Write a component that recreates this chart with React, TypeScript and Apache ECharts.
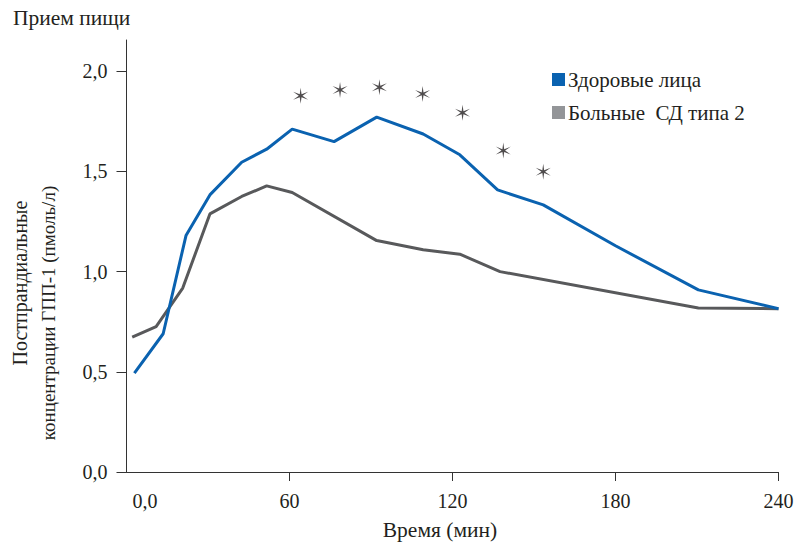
import React, { useEffect, useRef } from "react";
import * as echarts from "echarts";

const blueName = "Здоровые лица";
const grayName = "Больные  СД типа 2";
const blueT = [2.9, 13.5, 21.9, 30.7, 42.4, 51.6, 61, 76.4, 92.1, 109.2, 122.7, 136.6, 153.4, 180, 210.5, 240];
const blueV = [0.494, 0.69, 1.18, 1.383, 1.546, 1.611, 1.711, 1.649, 1.771, 1.687, 1.583, 1.408, 1.333, 1.129, 0.909, 0.815];
const grayT = [2.1, 10.9, 20.7, 30.7, 42.4, 51.6, 61, 92.1, 109.2, 122.7, 137.5, 210.5, 240];
const grayV = [0.673, 0.726, 0.918, 1.288, 1.375, 1.428, 1.395, 1.155, 1.109, 1.087, 1.0, 0.818, 0.815];
const starT = [64.1, 78.6, 93.1, 109, 123.7, 138.7, 153.4];
const starV = [1.878, 1.907, 1.92, 1.887, 1.793, 1.604, 1.499];
const yTicks = [0, 0.5, 1, 1.5, 2];
const xTicks = [60, 120, 180, 240];
const xLabelVals = [6.8, 60, 120, 180, 240];

const FONT = "Liberation Serif";

function starPath(): string {
  const pts: string[] = [];
  for (let i = 0; i < 12; i++) {
    const a = -Math.PI / 2 + (i * Math.PI) / 6;
    const r = i % 2 === 0 ? 10 : 2.1;
    pts.push(`${(Math.cos(a) * r).toFixed(2)} ${(Math.sin(a) * r).toFixed(2)}`);
  }
  return "path://M" + pts.join(" L") + " Z";
}

export default function App() {
  const ref = useRef<HTMLDivElement>(null);
  useEffect(() => {
    const chart = echarts.init(ref.current!, null, { renderer: "svg" });
    const fmt = (v: number) => v.toFixed(1).replace(".", ",");
    chart.setOption({
      animation: false,
      textStyle: { fontFamily: FONT },
      grid: { left: 126.5, right: 19.5, top: 40, bottom: 74, containLabel: false },
      legend: {
        orient: "vertical",
        left: 547,
        top: 64,
        itemWidth: 13,
        itemHeight: 13,
        itemGap: 12,
        icon: "rect",
        textStyle: { fontFamily: FONT, fontSize: 21, color: "#231f20", padding: [0, 0, 0, -2] },
        data: [
          { name: blueName, itemStyle: { color: "#0a62b0" } },
          { name: grayName, itemStyle: { color: "#939598" } },
        ],
      },
      xAxis: {
        type: "value",
        min: 0,
        max: 240,
        axisLine: { show: true, lineStyle: { color: "#333", width: 1 } },
        axisTick: { show: true, length: 9, customValues: xTicks, lineStyle: { color: "#333" } },
        axisLabel: {
          customValues: xLabelVals,
          margin: 19,
          fontFamily: FONT,
          fontSize: 20,
          color: "#231f20",
          formatter: (v: number) => (v < 10 ? "0,0" : String(Math.round(v))),
        },
        splitLine: { show: false },
      },
      yAxis: {
        type: "value",
        min: 0,
        max: 2.156,
        axisLine: { show: true, lineStyle: { color: "#333", width: 1 } },
        axisTick: { show: true, length: 10, customValues: yTicks, lineStyle: { color: "#333" } },
        axisLabel: {
          customValues: yTicks,
          margin: 19,
          fontFamily: FONT,
          fontSize: 20,
          color: "#231f20",
          formatter: fmt,
        },
        splitLine: { show: false },
      },
      graphic: [
        {
          type: "text",
          left: 13,
          top: 7,
          style: { text: "Прием пищи", font: `21.5px '${FONT}'`, fill: "#231f20" },
        },
        {
          type: "text",
          x: 440,
          y: 530,
          style: { text: "Время (мин)", font: `21.5px '${FONT}'`, fill: "#231f20", align: "center", verticalAlign: "middle" },
        },
        {
          type: "text",
          x: 20,
          y: 283,
          rotation: Math.PI / 2,
          style: { text: "Постпрандиальные", font: `20px '${FONT}'`, fill: "#231f20", align: "center", verticalAlign: "middle" },
        },
        {
          type: "text",
          x: 48,
          y: 313,
          rotation: Math.PI / 2,
          style: { text: "концентрации ГПП-1 (пмоль/л)", font: `19px '${FONT}'`, fill: "#231f20", align: "center", verticalAlign: "middle" },
        },
      ],
      series: [
        {
          name: blueName,
          type: "line",
          data: blueT.map((t, i) => [t, blueV[i]]),
          symbol: "none",
          lineStyle: { color: "#0a62b0", width: 3 },
          itemStyle: { color: "#0a62b0" },
          z: 3,
        },
        {
          name: grayName,
          type: "line",
          data: grayT.map((t, i) => [t, grayV[i]]),
          symbol: "none",
          lineStyle: { color: "#58595b", width: 3 },
          itemStyle: { color: "#939598" },
          z: 2,
        },
        {
          name: "stars",
          type: "scatter",
          data: starT.map((t, i) => [t, starV[i]]),
          symbol: starPath(),
          symbolSize: [15, 16],
          itemStyle: { color: "#231f20" },
          z: 4,
        },
      ],
    });
    return () => chart.dispose();
  }, []);
  return <div ref={ref} style={{ width: 798, height: 546, position: "absolute", left: 0, top: 0 }} />;
}
